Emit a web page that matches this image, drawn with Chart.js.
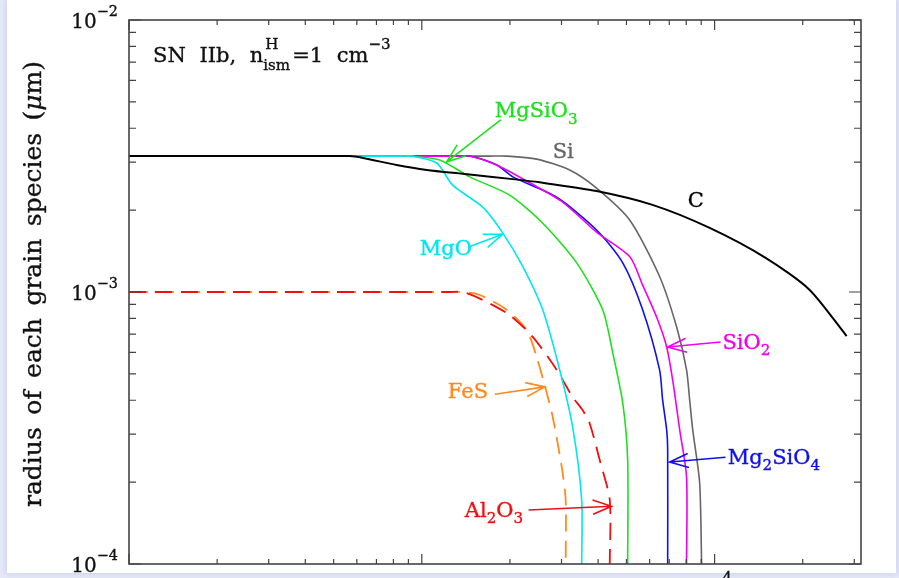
<!DOCTYPE html>
<html>
<head>
<meta charset="utf-8">
<script src="https://cdn.jsdelivr.net/npm/chart.js@4.4.1/dist/chart.umd.min.js"></script>
<style>
  html, body { margin: 0; padding: 0; width: 899px; height: 578px; overflow: hidden; background: #e6e9f8; }
  #sheet { position: absolute; left: 7px; top: 0; width: 889px; height: 573px; background: #fff;
           box-shadow: 0 0 6px 1px rgba(190, 198, 235, 0.7); }
  #chart { position: absolute; left: 0; top: 0; }
</style>
</head>
<body>
<div id="sheet"></div>
<canvas id="chart" width="899" height="578"></canvas>
<script>
// Grain radius (micron) against time (yr) for each dust species
const time_C        = [100, 568, 630, 820, 1040, 1380, 2046, 2527, 3952, 6138, 9620, 15030, 21080, 28240];
const radius_C      = [3.16e-3, 3.16e-3, 3.11e-3, 2.93e-3, 2.81e-3, 2.72e-3, 2.60e-3, 2.53e-3, 2.35e-3, 2.09e-3, 1.72e-3, 1.33e-3, 1.02e-3, 6.89e-4];

const time_Si       = [100, 1700, 1950, 2468, 3198, 3952, 5128, 6488, 7420, 8020, 8220, 8420, 8890, 9030];
const radius_Si     = [3.16e-3, 3.16e-3, 3.16e-3, 3.08e-3, 2.81e-3, 2.41e-3, 1.84e-3, 1.14e-3, 7.43e-4, 5.17e-4, 4.01e-4, 3.11e-4, 1.99e-4, 1e-4];

const time_SiO2     = [100, 1300, 1458, 1803, 2337, 3029, 3952, 5128, 5679, 6338, 6860, 7190, 7600, 8020, 8020];
const radius_SiO2   = [3.16e-3, 3.16e-3, 3.16e-3, 2.93e-3, 2.52e-3, 2.14e-3, 1.66e-3, 1.35e-3, 1.06e-3, 8.09e-4, 6.28e-4, 4.75e-4, 3.11e-4, 2.09e-4, 1e-4];

const time_Mg2SiO4   = [100, 1300, 1458, 1803, 2046, 2890, 3952, 4856, 5679, 6488, 6645, 6860, 6914, 6914];
const radius_Mg2SiO4 = [3.16e-3, 3.16e-3, 3.16e-3, 2.93e-3, 2.65e-3, 2.23e-3, 1.69e-3, 1.28e-3, 8.60e-4, 5.17e-4, 4.01e-4, 3.11e-4, 2.63e-4, 1e-4];

const time_MgSiO3   = [100, 800, 896, 1151, 1458, 1995, 2588, 3380, 4148, 4490, 4856, 5048, 5048];
const radius_MgSiO3 = [3.16e-3, 3.16e-3, 3.16e-3, 3.06e-3, 2.65e-3, 2.27e-3, 1.79e-3, 1.28e-3, 8.60e-4, 5.97e-4, 3.91e-4, 2.41e-4, 1e-4];

const time_MgO      = [100, 850, 931, 1125, 1275, 1615, 1889, 2213, 2588, 2958, 3274, 3516, 3516];
const radius_MgO    = [3.16e-3, 3.16e-3, 3.16e-3, 2.98e-3, 2.47e-3, 2.05e-3, 1.65e-3, 1.24e-3, 8.60e-4, 5.17e-4, 3.19e-4, 1.72e-4, 1e-4];

const time_Al2O3    = [100, 1250, 1380, 1615, 1995, 2393, 2890, 3274, 3541, 3740, 4052, 4385, 4385];
const radius_Al2O3  = [1e-3, 1e-3, 1e-3, 9.35e-4, 8.23e-4, 6.84e-4, 5.17e-4, 4.11e-4, 3.68e-4, 3.30e-4, 2.41e-4, 1.72e-4, 1e-4];

const time_FeS      = [100, 1250, 1380, 1578, 1950, 2282, 2468, 2672, 2800, 3006, 3100, 3100];
const radius_FeS    = [1e-3, 1e-3, 1e-3, 9.75e-4, 8.60e-4, 7.25e-4, 5.77e-4, 4.25e-4, 3.47e-4, 2.27e-4, 1.72e-4, 1e-4];

// Axis ranges
const xRange = [100, 31623];
const yRange = [1e-4, 1e-2];

const FONT = '"DejaVu Serif", "Liberation Serif", serif';

const COL = {
  C: '#000000', Si: '#666666', SiO2: '#f000f0', Mg2SiO4: '#1010e8',
  MgSiO3: '#1ee01e', MgO: '#00e6ef', Al2O3: '#f01010', FeS: '#ff8a1e'
};

function zip(ts, as) { return ts.map((t, i) => ({ x: t, y: as[i] })); }

function series(ts, as, color, extra) {
  return Object.assign({
    data: zip(ts, as), borderColor: color, borderWidth: 1.6,
    pointRadius: 0, fill: false, tension: 0.25
  }, extra || {});
}

// Species labels with leader arrows, anchored in data coordinates (time, radius)
const notes = [
  { parts: [['MgSiO'], ['3', 'sub']], color: COL.MgSiO3, at: [1775, 4.39e-3], from: [1860, 4.29e-3], to: [1216, 3.01e-3] },
  { parts: [['Si']], color: COL.Si, at: [2800, 3.11e-3] },
  { parts: [['C']], color: COL.C, at: [8090, 2.05e-3] },
  { parts: [['MgO']], color: COL.MgO, at: [984, 1.37e-3], from: [1436, 1.46e-3], to: [1889, 1.63e-3] },
  { parts: [['FeS']], color: COL.FeS, at: [1227, 4.07e-4], from: [1775, 4.21e-4], to: [2630, 4.48e-4] },
  { parts: [['SiO'], ['2', 'sub']], color: COL.SiO2, at: [10640, 6.17e-4], from: [10480, 6.55e-4], to: [6913, 6.28e-4] },
  { parts: [['Mg'], ['2', 'sub'], ['SiO'], ['4', 'sub']], color: COL.Mg2SiO4, at: [11080, 2.33e-4], from: [10900, 2.47e-4], to: [7022, 2.37e-4] },
  { parts: [['Al'], ['2', 'sub'], ['O'], ['3', 'sub']], color: COL.Al2O3, at: [1402, 1.49e-4], from: [2317, 1.58e-4], to: [4446, 1.63e-4] }
];

// ---- rich text helpers (sub/superscripts, TeX-like wide spaces) ----
const SMALL = 0.72;
function partFont(kind, size) {
  if (kind === 'sub' || kind === 'sup') return (size * SMALL).toFixed(1) + 'px ' + FONT;
  if (kind === 'italic') return 'italic ' + size + 'px ' + FONT;
  return size + 'px ' + FONT;
}
function strWidth(ctx, s, space) {
  const words = s.split(' ');
  let w = 0;
  words.forEach((wd, i) => { w += ctx.measureText(wd).width; if (i < words.length - 1) w += space; });
  return w;
}
function putText(ctx, s, x, y) {
  ctx.fillText(s, x, y);
  ctx.strokeText(s, x, y);
}
function drawStr(ctx, s, x, y, space) {
  const words = s.split(' ');
  let cx = x;
  words.forEach((wd, i) => { putText(ctx, wd, cx, y); cx += ctx.measureText(wd).width; if (i < words.length - 1) cx += space; });
  return cx - x;
}
function richWidth(ctx, parts, size, sp) {
  const space = size * (sp || 0.5);
  let w = 0;
  for (const p of parts) {
    if (p.stack) {
      ctx.font = partFont('sup', size);
      w += Math.max(ctx.measureText(p.stack[0]).width, ctx.measureText(p.stack[1]).width) + 2;
    } else {
      ctx.font = partFont(p[1], size);
      w += strWidth(ctx, p[0], space);
    }
  }
  return w;
}
function drawRich(ctx, parts, x, y, size, color, sp) {
  const space = size * (sp || 0.5);
  ctx.fillStyle = color;
  ctx.strokeStyle = color;
  ctx.lineWidth = 0.35;
  ctx.textBaseline = 'alphabetic';
  ctx.textAlign = 'left';
  let cx = x;
  for (const p of parts) {
    if (p.stack) {
      ctx.font = partFont('sup', size);
      putText(ctx, p.stack[0], cx + 2, y - size * 0.6);
      putText(ctx, p.stack[1], cx, y + size * 0.36);
      cx += Math.max(ctx.measureText(p.stack[0]).width, ctx.measureText(p.stack[1]).width) + 2;
      continue;
    }
    const kind = p[1];
    ctx.font = partFont(kind, size);
    const dy = kind === 'sub' ? size * 0.3 : kind === 'sup' ? -size * 0.6 : 0;
    cx += drawStr(ctx, p[0], cx, y + dy, space);
  }
  return cx - x;
}
function arrow(ctx, x0, y0, x1, y1, color) {
  const ang = Math.atan2(y0 - y1, x0 - x1), L = 20, w = 0.36;
  ctx.strokeStyle = color;
  ctx.lineWidth = 1.6;
  ctx.beginPath();
  ctx.moveTo(x0, y0); ctx.lineTo(x1, y1);
  ctx.moveTo(x1 + L * Math.cos(ang + w), y1 + L * Math.sin(ang + w));
  ctx.lineTo(x1, y1);
  ctx.lineTo(x1 + L * Math.cos(ang - w), y1 + L * Math.sin(ang - w));
  ctx.stroke();
}
function logTicks(min, max) {
  const out = [];
  for (let e = Math.floor(Math.log10(min)); e <= Math.ceil(Math.log10(max)); e++) {
    for (let m = 1; m <= 9; m++) {
      const v = m * Math.pow(10, e);
      if (v >= min * 0.999 && v <= max * 1.001) out.push({ v, major: m === 1, e });
    }
  }
  return out;
}

// Frame with inward ticks, tick labels, axis title and species annotations
const overlay = {
  id: 'overlay',
  afterDatasetsDraw(chart) {
    const { ctx, chartArea: ca, scales: { x, y } } = chart;
    ctx.save();

    ctx.strokeStyle = '#444';
    ctx.lineWidth = 1.6;
    ctx.strokeRect(ca.left, ca.top, ca.right - ca.left, ca.bottom - ca.top);

    ctx.lineWidth = 1.2;
    ctx.beginPath();
    const xt = logTicks(x.min, x.max), yt = logTicks(y.min, y.max);
    xt.forEach(t => {
      const px = x.getPixelForValue(t.v), len = t.major ? 10 : 5;
      ctx.moveTo(px, ca.bottom); ctx.lineTo(px, ca.bottom - len);
      ctx.moveTo(px, ca.top); ctx.lineTo(px, ca.top + len);
    });
    yt.forEach(t => {
      const py = y.getPixelForValue(t.v), len = t.major ? 12 : 7;
      ctx.moveTo(ca.left, py); ctx.lineTo(ca.left + len, py);
      ctx.moveTo(ca.right, py); ctx.lineTo(ca.right - len, py);
    });
    ctx.stroke();

    // y tick labels: 10^e, right aligned
    yt.filter(t => t.major).forEach(t => {
      const py = y.getPixelForValue(t.v);
      const parts = [['10'], ['\u2212' + Math.abs(t.e), 'sup']];
      const w = richWidth(ctx, parts, 20);
      drawRich(ctx, parts, ca.left - 11 - w, py + 8, 20, '#111');
    });
    // x tick labels below the frame: plain numbers up to 1000, powers of ten above
    xt.filter(t => t.major).forEach(t => {
      const px = x.getPixelForValue(t.v);
      const parts = t.e <= 3 ? [[String(t.v)]] : [['10'], [String(t.e), 'sup']];
      const w = richWidth(ctx, parts, 20);
      drawRich(ctx, parts, px - w / 2, ca.bottom + 30, 20, '#111');
    });

    // y axis title, reading upwards
    const title = [['radius of each grain species ('], ['\u03bc', 'italic'], ['m)']];
    ctx.save();
    ctx.translate(41, 507);
    ctx.rotate(-Math.PI / 2);
    drawRich(ctx, title, 0, 0, 25, '#111', 0.5);
    ctx.restore();

    // model label
    drawRich(ctx, [['SN IIb, n'], { stack: ['H', 'ism'] }, ['=1 cm'], ['\u22123', 'sup']],
             ca.left + 24, ca.top + 42, 21, '#111', 0.65);

    // species annotations
    notes.forEach(n => {
      if (n.from) arrow(ctx, x.getPixelForValue(n.from[0]), y.getPixelForValue(n.from[1]),
                        x.getPixelForValue(n.to[0]), y.getPixelForValue(n.to[1]), n.color);
      drawRich(ctx, n.parts, x.getPixelForValue(n.at[0]), y.getPixelForValue(n.at[1]), 21, n.color);
    });

    ctx.restore();
  }
};

new Chart(document.getElementById('chart'), {
  type: 'line',
  data: {
    datasets: [
      series(time_C, radius_C, COL.C, { borderWidth: 2 }),
      series(time_MgO, radius_MgO, COL.MgO),
      series(time_MgSiO3, radius_MgSiO3, COL.MgSiO3),
      series(time_SiO2, radius_SiO2, COL.SiO2),
      series(time_Mg2SiO4, radius_Mg2SiO4, COL.Mg2SiO4),
      series(time_Si, radius_Si, COL.Si),
      series(time_Al2O3, radius_Al2O3, COL.Al2O3, { borderDash: [17, 9], borderWidth: 1.8 }),
      series(time_FeS, radius_FeS, COL.FeS, { borderDash: [17, 9], borderDashOffset: -2, borderWidth: 1.8 })
    ]
  },
  options: {
    responsive: false,
    devicePixelRatio: 1,
    animation: false,
    layout: { padding: { left: 129, top: 20, right: 38, bottom: 14 } },
    plugins: { legend: { display: false }, tooltip: { enabled: false } },
    scales: {
      x: { type: 'logarithmic', min: xRange[0], max: xRange[1], display: false },
      y: { type: 'logarithmic', min: yRange[0], max: yRange[1], display: false }
    }
  },
  plugins: [overlay]
});
</script>
</body>
</html>
